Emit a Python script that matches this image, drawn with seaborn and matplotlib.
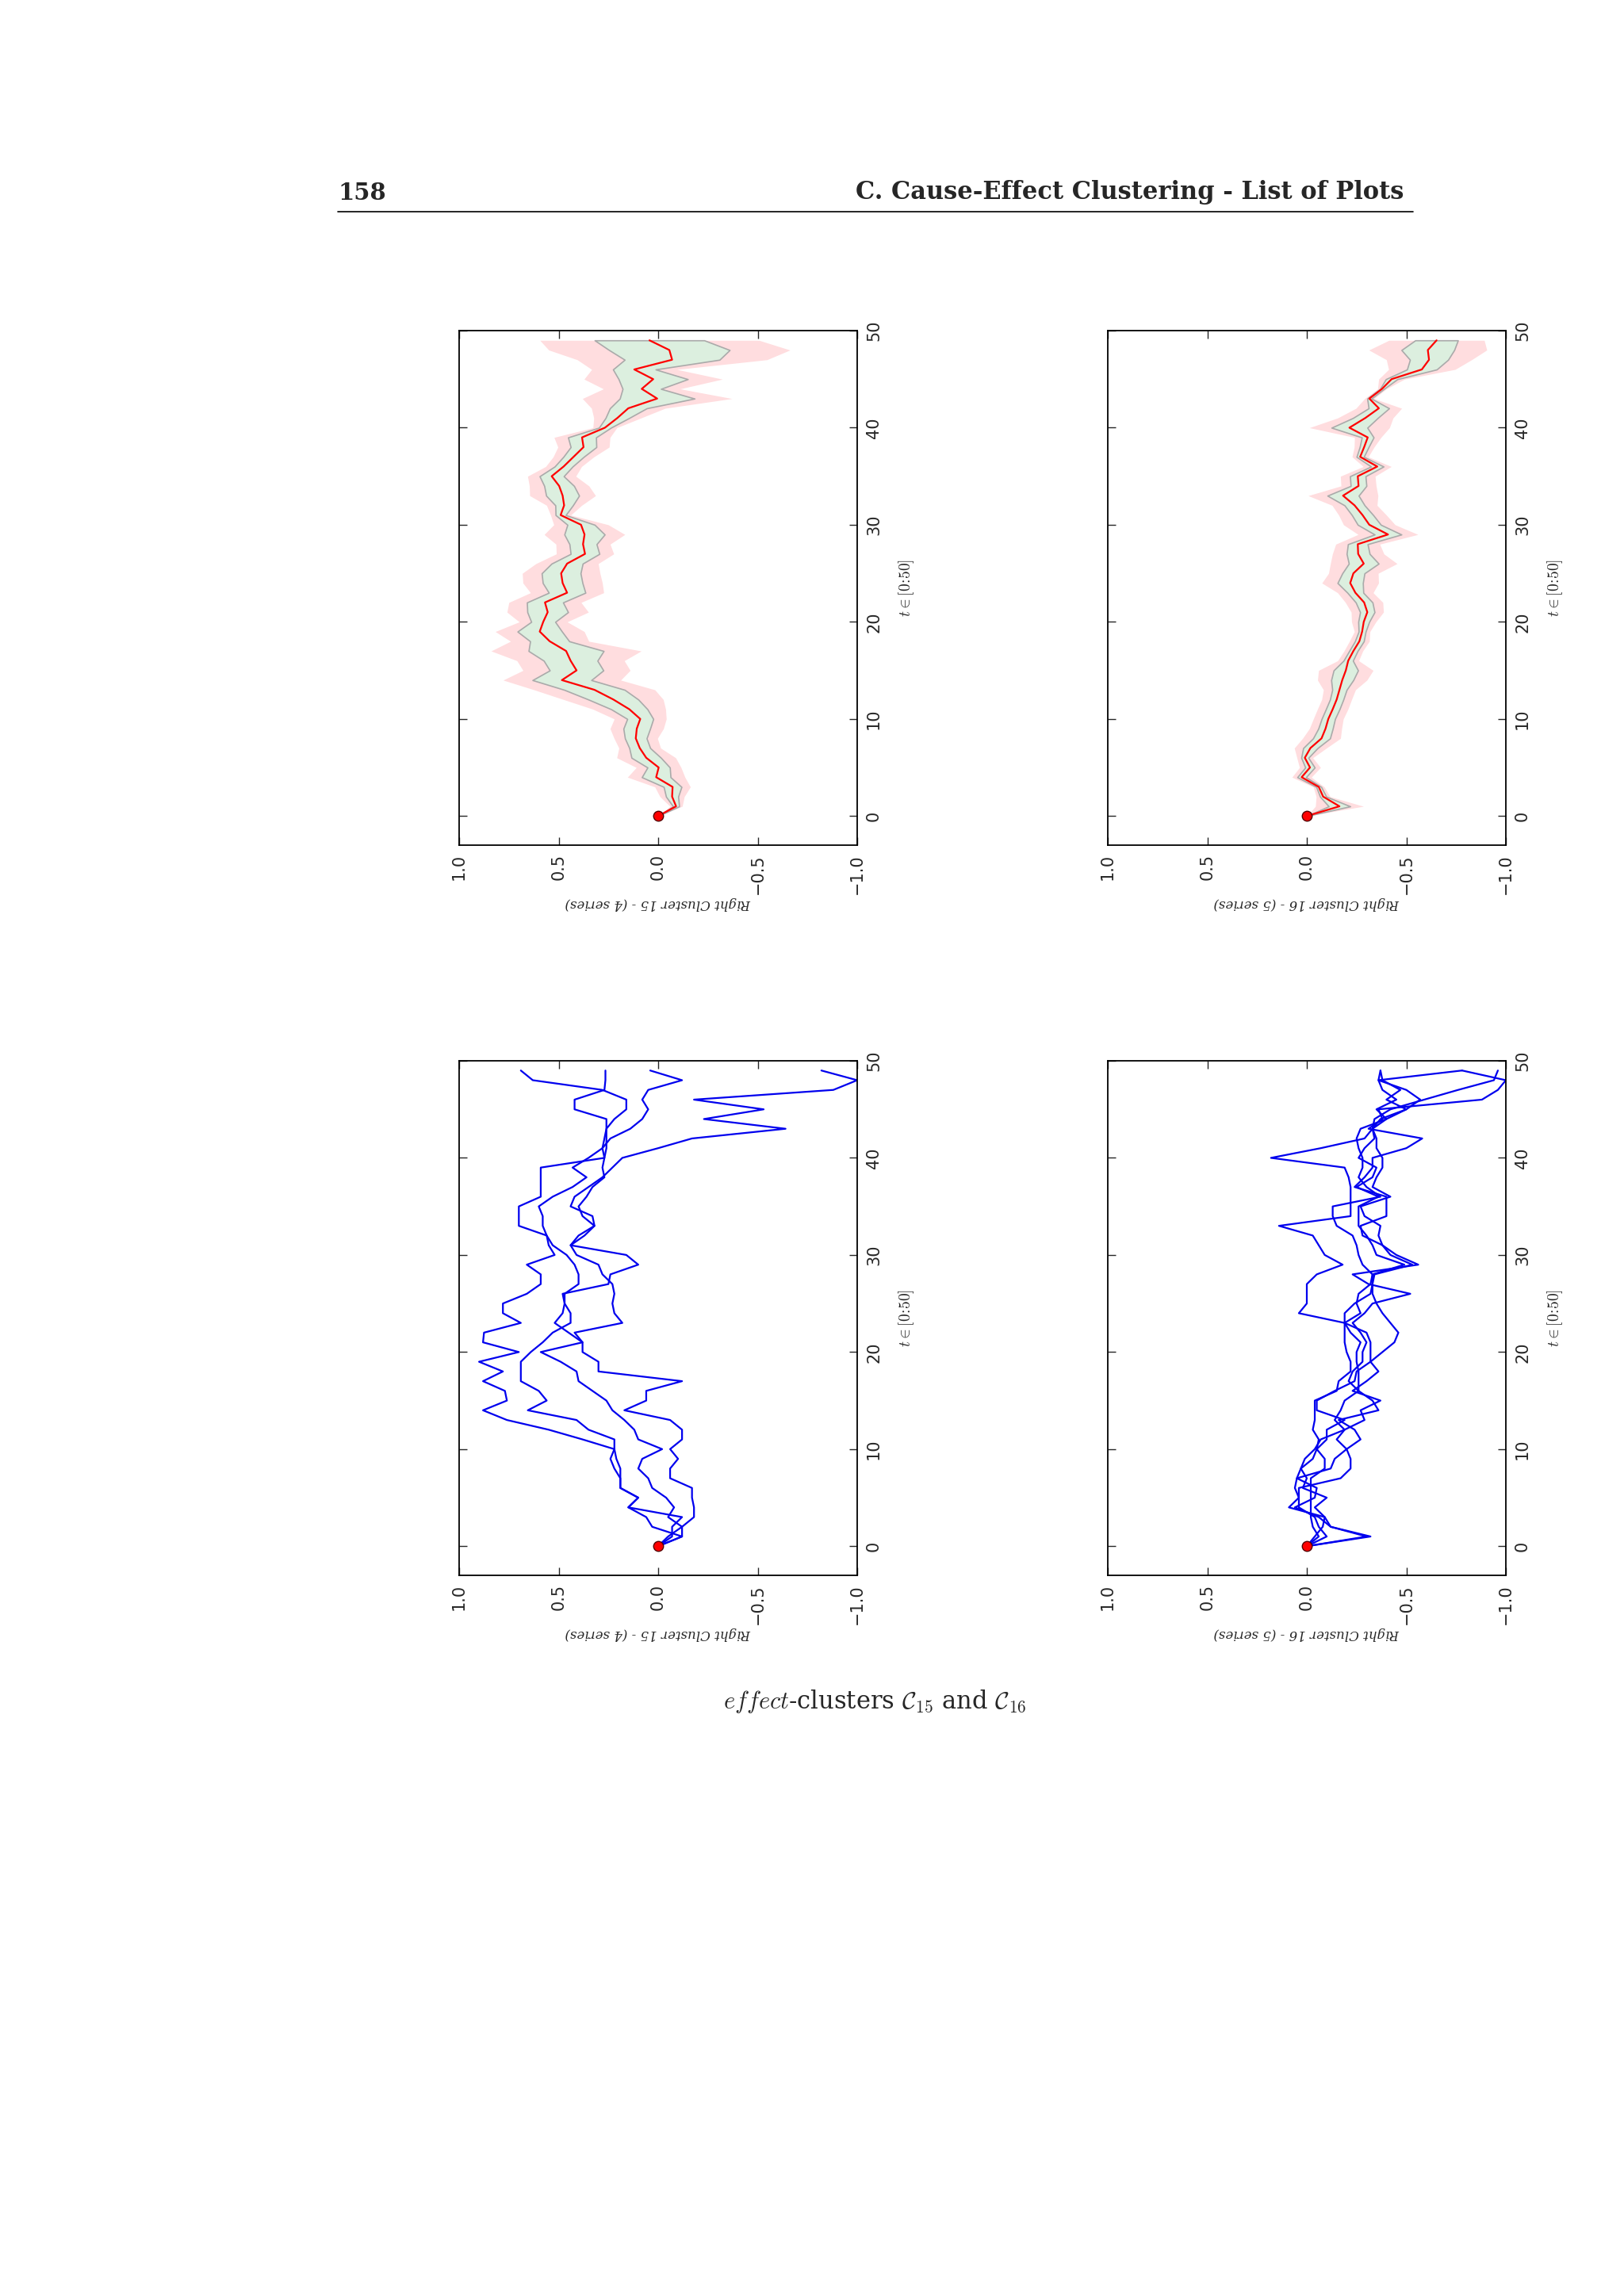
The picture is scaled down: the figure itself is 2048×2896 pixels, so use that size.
import numpy as np
import matplotlib
matplotlib.use("Agg")
import matplotlib.pyplot as plt
import seaborn as sns

t = list(range(50))
c15_s1 = [0,-0.12,0.03,0.06,0.15,0.10,0.19,0.19,0.22,0.24,0.22,0.38,0.55,0.76,0.88,0.76,0.77,0.88,0.78,0.90,0.70,0.88,0.875,0.69,0.78,0.78,0.66,0.59,0.59,0.66,0.52,0.55,0.56,0.70,0.70,0.70,0.59,0.59,0.59,0.59,0.27,0.26,0.26,0.26,0.22,0.16,0.16,0.28,0.63,0.69]
c15_s2 = [0,-0.12,-0.12,-0.18,-0.18,-0.17,-0.17,-0.06,-0.06,-0.10,-0.06,-0.12,-0.12,-0.06,0.17,0.06,0.06,-0.12,0.30,0.30,0.38,0.38,0.45,0.52,0.48,0.47,0.48,0.25,0.24,0.10,0.16,0.44,0.40,0.32,0.33,0.44,0.42,0.35,0.28,0.23,0.18,0.0,-0.17,-0.64,-0.23,-0.53,-0.18,-0.88,-1.0,-0.82]
c15_s3 = [0,-0.07,-0.07,-0.12,0.15,0.10,0.19,0.19,0.19,0.21,0.22,0.22,0.35,0.41,0.655,0.56,0.60,0.69,0.69,0.69,0.64,0.58,0.53,0.44,0.44,0.47,0.47,0.40,0.40,0.42,0.46,0.53,0.56,0.58,0.58,0.60,0.53,0.43,0.36,0.43,0.35,0.28,0.24,0.14,0.08,0.05,0.08,0.05,-0.12,0.04]
c15_s4 = [0,-0.05,-0.12,-0.05,-0.08,-0.04,0.03,0.05,0.10,0.08,-0.02,0.10,0.12,0.17,0.23,0.26,0.33,0.40,0.41,0.49,0.59,0.38,0.42,0.18,0.22,0.23,0.22,0.23,0.28,0.30,0.41,0.44,0.37,0.32,0.38,0.40,0.36,0.33,0.27,0.28,0.27,0.28,0.27,0.26,0.26,0.42,0.42,0.27,0.265,0.265]

c16_s1 = [0,-0.30,-0.12,-0.09,0.09,0.04,0.06,0.05,0.03,-0.03,-0.05,-0.06,-0.03,-0.04,-0.04,-0.04,-0.15,-0.16,-0.22,-0.22,-0.20,-0.19,-0.19,-0.19,0.04,0.00,0.00,0.00,-0.05,-0.18,-0.09,-0.06,-0.03,0.14,-0.22,-0.22,-0.22,-0.22,-0.21,-0.19,0.18,-0.07,-0.29,-0.33,-0.37,-0.50,-0.40,-0.47,-0.38,-0.37]
c16_s2 = [0,-0.06,-0.03,-0.02,-0.02,-0.02,-0.02,-0.02,-0.09,-0.09,-0.05,-0.10,-0.10,-0.19,-0.05,-0.05,-0.14,-0.24,-0.25,-0.32,-0.32,-0.32,-0.30,-0.19,-0.19,-0.24,-0.32,-0.33,-0.33,-0.28,-0.26,-0.25,-0.23,-0.15,-0.13,-0.13,-0.37,-0.30,-0.26,-0.28,-0.28,-0.26,-0.25,-0.27,-0.40,-0.50,-0.57,-0.50,-0.36,-0.37]
c16_s3 = [0,-0.04,-0.08,-0.09,-0.04,-0.10,0.02,0.0,0.03,0.01,-0.04,-0.07,-0.19,-0.14,-0.17,-0.19,-0.26,-0.26,-0.26,-0.25,-0.25,-0.27,-0.22,-0.19,-0.27,-0.25,-0.26,-0.32,-0.33,-0.49,-0.35,-0.33,-0.30,-0.26,-0.26,-0.26,-0.36,-0.25,-0.33,-0.35,-0.26,-0.29,-0.34,-0.33,-0.40,-0.35,-0.45,-0.38,-0.36,-0.78]
c16_s4 = [0,-0.10,-0.06,-0.04,0.04,0.04,0.04,-0.17,-0.22,-0.22,-0.20,-0.15,-0.19,-0.29,-0.27,-0.37,-0.23,-0.30,-0.36,-0.32,-0.38,-0.44,-0.46,-0.42,-0.38,-0.35,-0.33,-0.33,-0.34,-0.53,-0.42,-0.38,-0.36,-0.37,-0.29,-0.27,-0.42,-0.33,-0.35,-0.38,-0.38,-0.35,-0.35,-0.33,-0.34,-0.42,-0.59,-0.76,-0.94,-0.96]
c16_s5 = [0,-0.32,-0.12,-0.06,0.06,-0.04,-0.05,0.05,-0.12,-0.14,-0.20,-0.27,-0.24,-0.16,-0.36,-0.33,-0.26,-0.21,-0.23,-0.28,-0.28,-0.30,-0.27,-0.23,-0.29,-0.33,-0.52,-0.31,-0.23,-0.56,-0.45,-0.38,-0.28,-0.27,-0.40,-0.40,-0.40,-0.24,-0.29,-0.33,-0.33,-0.50,-0.58,-0.31,-0.38,-0.36,-0.88,-0.96,-1.0,-0.78]

clusters = [
    ("Right Cluster 15 - (4 series)", [c15_s1, c15_s2, c15_s3, c15_s4]),
    ("Right Cluster 16 - (5 series)", [c16_s1, c16_s2, c16_s3, c16_s4, c16_s5]),
]
val_ticks = [-1.0, -0.5, 0.0, 0.5, 1.0]
t_ticks = [0, 10, 20, 30, 40, 50]

sns.set_style("ticks")
plt.rcParams['font.family'] = ['DejaVu Sans']
plt.rcParams['mathtext.fontset'] = 'cm'

fig = plt.figure(figsize=(20.48, 28.96), dpi=100)
W, H = 2048, 2896
lefts = [579, 1397]
tops = [417, 1338]
aw, ah = 502, 649

def style(ax, label):
    ax.set_xlim(1.0, -1.0)
    ax.set_ylim(-3, 50)
    ax.set_xticks(val_ticks)
    ax.set_yticks(t_ticks)
    ax.yaxis.tick_right()
    ax.yaxis.set_label_position("right")
    ax.tick_params(axis='both', direction='in', length=7, width=1, labelsize=15,
                   top=True, bottom=True, left=True, right=True)
    ax.tick_params(axis='x', labelrotation=90, pad=8)
    ax.tick_params(axis='y', labelrotation=90, pad=8)
    for lab in ax.get_yticklabels():
        lab.set_va('center')
    ax.set_xlabel(label, rotation=180, fontsize=12, family='DejaVu Serif', style='italic', labelpad=2)
    ax.set_ylabel(r"$t \in [0\!:\!50]$", rotation=90, fontsize=14, labelpad=14)
    for s in ax.spines.values():
        s.set_linewidth(1.3)
        s.set_color('black')

for col, (label, series) in enumerate(clusters):
    arr = np.array(series)
    n = arr.shape[0]
    mean = arr.mean(axis=0)
    std = arr.std(axis=0)
    sem = std / np.sqrt(n)
    ax = fig.add_axes([lefts[col] / W, 1 - (tops[0] + ah) / H, aw / W, ah / H])
    ax.fill_betweenx(t, mean - std, mean + std, color='#ffdddf', linewidth=0)
    ax.fill_betweenx(t, mean - sem, mean + sem, facecolor='#dcefdf', edgecolor='#aaaaaa', linewidth=1.2)
    sns.lineplot(x=mean, y=t, orient='y', sort=False, color='red', linewidth=1.6, ax=ax)
    ax.plot([0], [0], 'o', color='red', markeredgecolor='#550000', markersize=9)
    style(ax, label)
    ax2 = fig.add_axes([lefts[col] / W, 1 - (tops[1] + ah) / H, aw / W, ah / H])
    for s in series:
        sns.lineplot(x=s, y=t, orient='y', sort=False, color='#0000ee', linewidth=1.6, ax=ax2)
    ax2.plot([0], [0], 'o', color='red', markeredgecolor='#550000', markersize=9)
    style(ax2, label)

fig.text(426 / W, 1 - 243 / H, "158", family='DejaVu Serif', weight='bold', fontsize=21, ha='left', va='center')
fig.text(1770 / W, 1 - 243 / H, "C. Cause-Effect Clustering - List of Plots", family='DejaVu Serif',
         weight='bold', fontsize=22, ha='right', va='center')
fig.add_artist(plt.Line2D([426 / W, 1782 / W], [1 - 267 / H, 1 - 267 / H], color='black', linewidth=1.2))
fig.text(1103 / W, 1 - 2146 / H, r"$\mathit{effect}$-clusters $\mathcal{C}_{15}$ and $\mathcal{C}_{16}$",
         family='DejaVu Serif', fontsize=22, ha='center', va='center')

fig.savefig("out.png", dpi=100, facecolor='white')
